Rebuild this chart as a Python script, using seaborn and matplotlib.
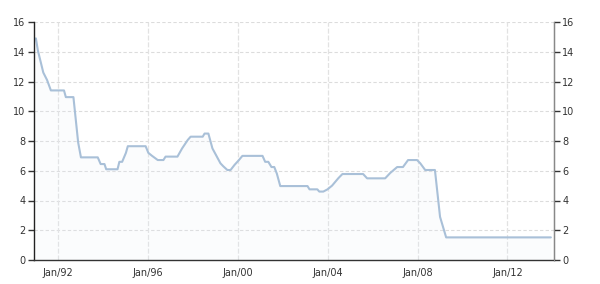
import matplotlib
matplotlib.use("Agg")
import matplotlib.pyplot as plt
import seaborn as sns
import pandas as pd

dates = [
    "1991-01-15", "1991-02-15", "1991-05-15", "1991-07-15", "1991-09-15",
    "1992-04-15", "1992-05-15", "1992-09-15", "1992-12-01", "1993-01-15",
    "1993-10-15", "1993-12-01", "1994-02-01", "1994-03-01", "1994-09-01",
    "1994-10-01", "1994-11-15", "1995-01-15", "1995-02-15", "1995-12-01",
    "1996-01-15", "1996-03-15", "1996-06-15", "1996-09-15", "1996-10-20",
    "1997-05-01", "1997-07-15", "1997-10-15", "1997-12-01", "1998-06-15",
    "1998-07-15", "1998-09-15", "1998-11-20", "1999-03-30", "1999-05-15",
    "1999-07-20", "1999-09-10", "1999-11-15", "2000-01-20", "2000-03-20",
    "2001-02-10", "2001-03-25", "2001-05-15", "2001-07-05", "2001-08-20",
    "2001-10-01", "2001-11-25", "2003-02-10", "2003-03-15", "2003-07-20",
    "2003-08-20", "2003-10-25", "2004-01-01", "2004-03-15", "2004-05-05",
    "2004-06-25", "2004-08-30", "2005-08-01", "2005-10-05", "2006-07-25",
    "2006-10-15", "2007-02-05", "2007-05-10", "2007-08-01", "2007-12-25",
    "2008-02-15", "2008-05-05", "2008-10-10", "2009-01-01", "2009-04-10",
    "2013-12-05",
]
rates = [
    14.9, 14.1, 12.6, 12.1, 11.4,
    11.4, 10.95, 10.95, 7.9, 6.9,
    6.9, 6.45, 6.45, 6.1, 6.1,
    6.6, 6.6, 7.2, 7.65, 7.65,
    7.2, 7.0, 6.72, 6.72, 6.95,
    6.95, 7.5, 8.07, 8.29, 8.29,
    8.5, 8.5, 7.5, 6.5, 6.3,
    6.05, 6.05, 6.4, 6.7, 7.0,
    7.0, 6.6, 6.6, 6.25, 6.25,
    5.8, 4.97, 4.97, 4.75, 4.75,
    4.6, 4.6, 4.75, 5.0, 5.25,
    5.5, 5.78, 5.78, 5.49, 5.49,
    5.85, 6.25, 6.25, 6.72, 6.72,
    6.5, 6.05, 6.05, 2.9, 1.52,
    1.52,
]
tick_years = [1992, 1996, 2000, 2004, 2008, 2012]
y_ticks = [0, 2, 4, 6, 8, 10, 12, 14, 16]

df = pd.DataFrame({"date": pd.to_datetime(dates), "rate": rates})

sns.set_style("white")
plt.rcParams["font.family"] = ["DejaVu Sans"]

fig = plt.figure(figsize=(6.0, 2.84), dpi=100)
ax = fig.add_axes([34 / 600, 24 / 284, 520 / 600, 238 / 284])

line_color = "#a9c0d8"
ax.fill_between(df["date"], df["rate"], 0, color="#e6eef7", alpha=0.15, linewidth=0)
sns.lineplot(data=df, x="date", y="rate", ax=ax, color=line_color, linewidth=1.5)

ax.set_xlim(pd.Timestamp("1990-12-15"), pd.Timestamp("2014-01-25"))
ax.set_ylim(0, 16)
ax.set_yticks(y_ticks)
xt = [pd.Timestamp(f"{y}-01-01") for y in tick_years]
ax.set_xticks(xt)
ax.set_xticklabels([f"Jan/{str(y)[2:]}" for y in tick_years])
ax.set_xlabel("")
ax.set_ylabel("")

for y in y_ticks[1:]:
    ax.axhline(y, color="#dcdcdc", linewidth=0.8, linestyle=(0, (3, 2)), zorder=0)
for x in xt:
    ax.axvline(x, color="#e2e2e2", linewidth=0.9, linestyle=(0, (4, 1.5)), zorder=0)

ax.spines["top"].set_visible(False)
ax.spines["left"].set_color("#222222")
ax.spines["bottom"].set_color("#333333")
ax.spines["right"].set_color("#888888")
for s in ["left", "bottom", "right"]:
    ax.spines[s].set_linewidth(1.0)

ax.tick_params(axis="both", labelsize=7, colors="#333333", length=4, width=1, pad=2)

ax2 = ax.twinx()
ax2.set_ylim(0, 16)
ax2.set_yticks(y_ticks)
ax2.tick_params(axis="y", labelsize=7, colors="#333333", length=4, width=1, pad=2)
for s in ["top", "left", "bottom"]:
    ax2.spines[s].set_visible(False)
ax2.spines["right"].set_color("#888888")

fig.savefig("out.png", dpi=100, facecolor="white")
